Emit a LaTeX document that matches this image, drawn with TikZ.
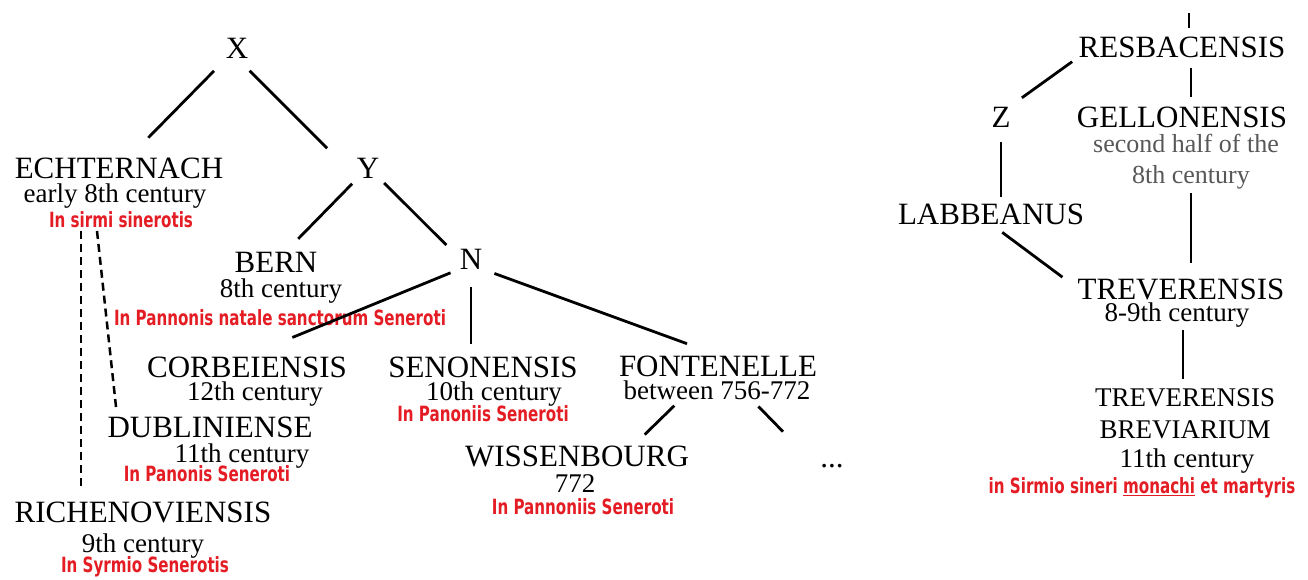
\documentclass[tikz,border=0pt]{standalone}
\usepackage{fontspec}
\setmainfont{Liberation Serif}
\newfontfamily\incipitfont[FakeStretch=0.72]{DejaVu Sans}
\definecolor{incipit}{RGB}{228,28,36}
\definecolor{datagray}{RGB}{88,88,88}

\begin{document}
\begin{tikzpicture}[x=1pt, y=-1pt,
    namenode/.style={font=\fontsize{31}{31}\selectfont, inner sep=0pt, outer sep=0pt, text height=21pt, text depth=0pt, anchor=base},
    smallname/.style={font=\fontsize{27}{27}\selectfont, inner sep=0pt, outer sep=0pt, text height=18pt, text depth=0pt, anchor=base},
    datenode/.style={font=\fontsize{27}{27}\selectfont, inner sep=0pt, outer sep=0pt, text height=19pt, text depth=6pt, anchor=base},
    graynode/.style={font=\fontsize{26}{26}\selectfont, text=datagray, inner sep=0pt, outer sep=0pt, text height=19pt, text depth=6pt, anchor=base},
    rednode/.style={font=\incipitfont\bfseries\fontsize{21}{21}\selectfont, text=incipit, inner sep=0pt, outer sep=0pt, text height=15pt, text depth=4pt, anchor=base},
    branch/.style={draw, line width=2.8pt},
    dashbranch/.style={draw, line width=2.5pt, dash pattern=on 8pt off 5pt},
]
\useasboundingbox (0,0) rectangle (1308,579);

% left tree
\node[namenode] (x)        at (237,58)  {X};
\node[namenode] (ech)      at (119,178) {ECHTERNACH};
\node[datenode] (echdate)  at (115,202) {early 8th century};
\node[rednode]  (echred)   at (121,227) {In sirmi sinerotis};
\node[namenode] (y)        at (368,178) {Y};
\node[namenode] (bern)     at (276,272) {BERN};
\node[datenode] (berndate) at (281,297) {8th century};
\node[rednode]  (bernred)  at (280,325) {In Pannonis natale sanctorum Seneroti};
\node[namenode] (n)        at (471,269) {N};
\node[namenode] (corb)     at (247,377) {CORBEIENSIS};
\node[datenode] (corbdate) at (255,400) {12th century};
\node[namenode] (sen)      at (483,377) {SENONENSIS};
\node[datenode] (sendate)  at (494,400) {10th century};
\node[rednode]  (senred)   at (483,421) {In Panoniis Seneroti};
\node[namenode] (font)     at (718,376) {FONTENELLE};
\node[datenode] (fontdate) at (717,399) {between 756-772};
\node[namenode] (wiss)     at (577,466) {WISSENBOURG};
\node[datenode] (wissdate) at (575,492) {772};
\node[rednode]  (wissred)  at (583,514) {In Pannoniis Seneroti};
\node[namenode] (dots)     at (832,467) {...};
\node[namenode] (dub)      at (210,437) {DUBLINIENSE};
\node[datenode] (dubdate)  at (242,462) {11th century};
\node[rednode]  (dubred)   at (207,481) {In Panonis Seneroti};
\node[namenode] (rich)     at (143,522) {RICHENOVIENSIS};
\node[datenode] (richdate) at (143,552) {9th century};
\node[rednode]  (richred)  at (145,572) {In Syrmio Senerotis};

\draw[branch, shorten <=18pt, shorten >=27pt] (x) -- (ech);
\draw[branch, shorten <=18pt, shorten >=42pt] (x.south) -- (y.south west);
\draw[branch, shorten <=8pt, shorten >=17pt] (y) -- (bern);
\draw[branch, shorten <=7pt, shorten >=19pt] (y.south east) -- (n.west);
\draw[branch, shorten <=10pt, shorten >=49pt] (n.south west) -- (corb.north);
\draw[branch, shorten <=18pt, shorten >=12pt] (n.south) -- (n.south |- sen.north);
\draw[branch, shorten <=13pt, shorten >=33pt] (n.south east) -- (font.north);
\draw[branch, shorten <=1pt, shorten >=15pt] ([xshift=-42pt]fontdate.south) -- ([xshift=57pt]wiss.north);
\draw[branch, shorten <=2pt, shorten >=20pt] ([xshift=40pt]fontdate.south) -- ([xshift=-35pt]dots.north);
\draw[dashbranch, shorten >=13pt] ([xshift=-40pt]echred.south) -- ([xshift=-62pt]rich.north);
\draw[dashbranch, shorten >=9pt] ([xshift=-24pt]echred.south) -- ([xshift=-93pt]dub.north);

% right tree
\node[namenode] (resb)        at (1182,57)  {RESBACENSIS};
\node[namenode] (z)           at (1001,127) {Z};
\node[namenode] (gell)        at (1182,127) {GELLONENSIS};
\node[graynode] (gelldate)    at (1186,152) {second half of the};
\node[graynode] (gelldatetwo) at (1191,183) {8th century};
\node[namenode] (lab)         at (991,224)  {LABBEANUS};
\node[namenode] (trev)        at (1181,299) {TREVERENSIS};
\node[datenode] (trevdate)    at (1177,321) {8-9th century};
\node[smallname] (brev)       at (1185,406) {TREVERENSIS};
\node[smallname] (brevtwo)    at (1185,438) {BREVIARIUM};
\node[datenode] (brevdate)    at (1187,467) {11th century};
\node[rednode]  (brevred)     at (1142,493) {in Sirmio sineri \underline{monachi} et martyris};
\coordinate (resbtop) at (1189,13);

\draw[branch, shorten >=8pt] (resbtop) -- (resbtop |- resb.north);
\draw[branch, shorten <=11pt, shorten >=9pt] ([xshift=9pt]resb.south) -- ([xshift=9pt]gell.north);
\draw[branch, shorten <=8pt, shorten >=14pt] (resb.south west) -- (z.north east);
\draw[branch, shorten <=15pt, shorten >=6pt] (z.south) -- (z.south |- lab.north);
\draw[branch, shorten <=4pt, shorten >=15pt] (gelldatetwo.south) -- (gelldatetwo.south |- trev.north);
\draw[branch, shorten <=14pt, shorten >=19pt] (lab.south) -- (trev.west);
\draw[branch, shorten <=3pt, shorten >=9pt] ([xshift=6pt]trevdate.south) -- ([xshift=-2pt]brev.north);
\end{tikzpicture}
\end{document}
